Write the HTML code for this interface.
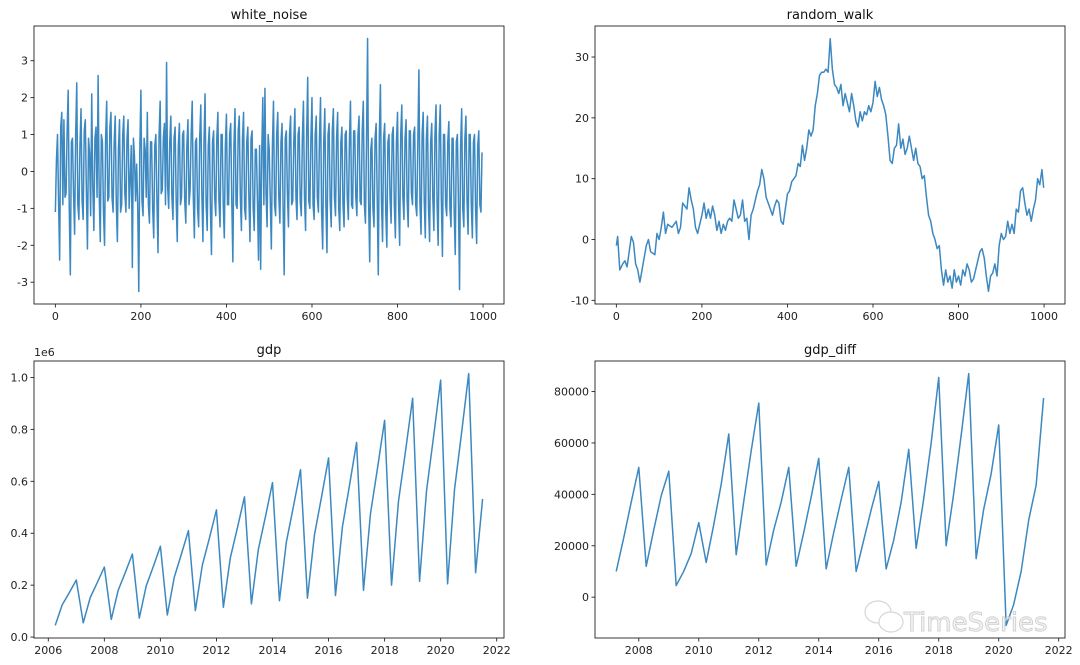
<!DOCTYPE html>
<html><head><meta charset="utf-8"><style>
body{margin:0;background:#fff;}
svg{display:block;font-family:"DejaVu Sans","Liberation Sans",sans-serif;}
</style></head><body>
<svg id="fig" width="1080" height="665" viewBox="0 0 1080 665">
<rect width="1080" height="665" fill="#fff"/>
</svg>
<script>
// ---------- data ----------
const wnValA = [
-1.1,1.0,-2.4,1.6,1.4,-0.6,2.2,-2.8,0.9,-1.7,2.4,-1.3,1.7,-1.3,1.4,-2.1,0.5,2.1,-1.6,1.2,
2.6,-1.9,0.8,-2.0,1.9,-0.7,1.6,-1.1,1.5,-1.9,1.4,-0.9,1.5,-1.1,1.4,-0.2,-2.6,0.4,0.2,-3.25,
2.2,-1.2,0.6,1.6,-1.4,0.8,-1.8,1.0,-2.2,1.9,-0.5,1.3,2.95,-1.0,1.5,-1.3,1.2,-1.9,1.3,-0.7,
1.1,-1.4,1.4,-0.5,1.9,-1.8,0.9,-1.5,1.8,-1.9,2.1,-1.6,1.2,-2.25,1.1,-1.2,1.6,-1.5,1.0,-1.8,
1.55,-0.9,1.3,-2.45,1.7,-1.0,1.5,-1.6,1.6,-1.3,1.2,-1.9,1.1,-1.6,0.6,-2.4,-2.65,2.0,2.25,-1.5,
0.6,-2.1,1.9,-1.2,1.6,-1.4,1.3,-2.8,1.1,-1.5,1.5,-0.8,1.7,-1.3,1.2,-1.2,1.9,-1.6,2.55,-1.0,
2.0,-1.3,1.5,-1.1,2.0,-2.1,1.7,-2.2,1.3,-1.5,1.7,-1.2,1.6,-1.6,1.2,-1.5,1.1,-1.3,1.9,-1.0,
1.1,-1.2,1.5,-0.9,1.9,-1.4,3.6,-2.45,0.9,-1.5,1.3,-2.8,2.35,-1.9,1.3,-2.05,1.0,-1.4,1.2,-1.8,
1.6,-2.0,1.8,-1.3,1.4,-1.5,1.1,-0.9,1.2,-1.2,2.75,-1.7,1.6,-1.8,1.5,-1.9,1.3,-1.6,1.8,-2.0,
1.8,-2.3,1.0,-1.2,1.35,-1.5,0.9,-2.25,1.0,-3.2,1.7,-1.5,1.5,-1.7,1.0,-1.8,1.0,-1.95,1.1,-1.1];
// values midway between the A samples (indices 2,7,12,...)
const wnValB = [
0.3,-0.8,1.2,-0.9,-0.7,1.1,-1.0,0.8,-0.6,1.0,-0.9,0.7,-0.8,1.1,-0.5,0.9,-1.2,-0.4,0.9,-0.7,
-0.6,1.0,-1.1,0.9,-0.8,1.2,-0.7,0.8,-0.9,0.6,-1.1,1.0,-0.6,0.9,-1.0,0.7,0.9,-0.8,-0.9,0.6,
-0.8,0.9,-0.7,-0.9,0.8,-1.0,0.7,-0.8,1.0,-0.6,0.9,-0.9,-0.4,0.8,-0.7,0.9,-0.8,0.7,-0.9,1.0,
-0.8,0.7,-0.9,1.0,-0.7,0.8,-1.0,0.9,-0.6,0.8,-0.9,0.7,-1.0,0.8,-0.7,0.9,-0.8,1.0,-0.9,0.7,
-0.9,1.0,-0.8,0.7,-0.9,1.1,-0.7,0.9,-1.0,0.8,-0.7,0.9,-1.0,0.6,-0.8,0.7,0.5,-0.9,-0.6,1.0,
-0.8,0.7,-0.9,1.0,-0.7,0.8,-1.0,0.9,-0.6,1.0,-0.9,0.8,-0.7,1.0,-0.8,0.9,-0.7,1.0,-0.8,0.9,
-0.9,1.0,-0.7,0.9,-1.1,0.8,-0.9,1.0,-0.8,1.1,-0.7,0.9,-1.0,0.8,-0.9,1.0,-0.7,0.8,-0.9,1.1,
-0.7,1.0,-0.8,1.1,-0.9,0.8,-0.9,0.6,-1.0,0.9,-0.7,1.0,-0.8,0.9,-1.1,0.8,-0.7,1.0,-0.9,0.8,
-0.9,1.0,-0.7,0.9,-0.8,1.1,-0.6,1.0,-0.9,0.8,-0.9,1.0,-0.8,0.9,-1.0,0.8,-0.7,1.0,-0.9,1.0,
-0.8,1.0,-0.9,0.8,-1.0,0.9,-1.1,0.8,-0.9,0.7,-1.0,0.9,-0.8,1.0,-0.9,0.8,-1.0,0.7,-0.9,0.5];
const wnLast = 0.5;

const rwIdx = [0,3,8,15,20,25,30,35,40,45,50,55,60,65,70,75,80,90,95,100,105,110,115,120,130,140,145,150,155,160,165,170,175,180,185,190,200,205,210,215,220,225,230,235,240,245,250,255,260,265,270,275,280,285,290,295,300,305,310,315,320,330,335,340,345,350,355,360,365,370,375,380,385,390,395,400,405,410,415,420,425,430,435,440,445,450,455,460,465,470,475,480,485,490,495,500,505,510,515,520,525,530,535,540,545,550,555,560,565,570,575,580,585,590,595,600,605,610,615,620,625,630,635,640,645,650,655,660,665,670,675,680,685,690,695,700,705,710,715,720,725,730,735,740,745,750,755,760,765,770,775,780,785,790,795,800,805,810,815,820,825,830,835,840,845,850,855,860,865,870,875,880,885,890,895,900,905,910,915,920,925,930,935,940,945,950,955,960,965,970,975,980,985,990,995,999];
const rwVal = [-1,0.5,-5,-4,-3.5,-4.5,-2,0.5,-0.5,-4,-5,-7,-5,-3,-1,0,-2,-2.5,1,0,2,4.5,1,2.5,2,3,1,2,6,5.5,5,8.5,6.5,5,2,1,4,6,3.5,5,3.5,5.5,4,1.5,3,1,2.5,1.5,3,3.5,3,6.5,5,3.5,4,6.5,3,3.5,0,4,5,8,9,11.5,10,7,6,5,4,5.5,6.5,6,3,2.5,5,7.5,8,9.5,10,10.5,12.5,12,15.5,13,15,18,17,18,22,24,27,27.5,27.5,28,27.5,33,28,25.5,25,24,25.5,22,24,22.5,21,24,22,19.5,18.5,21,19.5,21,20.5,22,21,22.5,26,23.5,25,23,22,20.5,17,13,12.5,15,15.5,19,15,16.5,14,15,17,15,13,15,12.5,12,10,10.5,7,4,3,1,0,-1.5,-1,-5,-7.5,-5,-7,-6,-8,-5,-7,-6,-7.5,-5,-6,-4,-5,-7,-6.5,-5,-3.5,-2,-1.5,-3,-6,-8.5,-6,-5.5,-4,-6,-1,1,0,0.5,3,1,2.5,1,5,4.5,8,8.5,6,4,5,3,5,6.5,10,9,11.5,8.5];

// quarterly GDP, 2006Q1 .. 2021Q2
const gdpYears = [];
const gdpQuarters = [];
for (let y = 2006; y <= 2021; y++) for (let q = 1; q <= 4; q++) { if (y === 2021 && q > 2) break; gdpYears.push(y); gdpQuarters.push(q); }
const gdpVal = [
0.045e6,0.124e6,0.171e6,0.22e6,
0.055e6,0.152e6,0.210e6,0.27e6,
0.068e6,0.181e6,0.249e6,0.32e6,
0.073e6,0.198e6,0.272e6,0.35e6,
0.085e6,0.231e6,0.319e6,0.41e6,
0.102e6,0.277e6,0.381e6,0.49e6,
0.115e6,0.306e6,0.421e6,0.54e6,
0.128e6,0.338e6,0.464e6,0.595e6,
0.14e6,0.367e6,0.504e6,0.645e6,
0.15e6,0.393e6,0.539e6,0.69e6,
0.16e6,0.426e6,0.585e6,0.75e6,
0.18e6,0.475e6,0.652e6,0.835e6,
0.20e6,0.524e6,0.718e6,0.92e6,
0.215e6,0.564e6,0.773e6,0.99e6,
0.205e6,0.570e6,0.788e6,1.015e6,
0.248e6,0.532e6];
// gdp_diff, 2007Q1 .. 2021Q2
const diffYears = gdpYears.slice(4);
const diffQuarters = gdpQuarters.slice(4);
const diffVal = [
10000,23000,37000,50500,
12000,26000,39500,49000,
4500,10000,17000,29000,
13500,28000,44000,63500,
16500,37000,57000,75500,
12500,26000,37000,50500,
12000,25000,39000,54000,
11000,25000,38000,50500,
10000,22000,34000,45000,
11000,22000,37000,57500,
19000,38000,60000,85500,
20000,40000,63000,87000,
15000,34000,48000,67000,
-11000,-3000,10000,30000,
43500,77500];

const idxTicks = [0,200,400,600,800,1000];
const wnTicks = [-3,-2,-1,0,1,2,3];
const rwTicks = [-10,0,10,20,30];
const yearTicksA = [2006,2008,2010,2012,2014,2016,2018,2020,2022];
const yearTicksB = [2008,2010,2012,2014,2016,2018,2020,2022];
const gdpTicks = [0,0.2e6,0.4e6,0.6e6,0.8e6,1.0e6];
const gdpTickLabels = ["0.0","0.2","0.4","0.6","0.8","1.0"];
const diffTicks = [0,20000,40000,60000,80000];

// merge white-noise samples in index order
const wnIdx = [], wnVal = [];
wnValA.forEach((v, i) => { wnIdx.push(i * 5); wnVal.push(v); wnIdx.push(i * 5 + 2.5); wnVal.push(wnValB[i]); });
wnIdx.push(999); wnVal.push(wnLast);

// ---------- drawing ----------
const NS = "http://www.w3.org/2000/svg";
const svg = document.getElementById('fig');
function mk(tag, attrs, parent) {
  const e = document.createElementNS(NS, tag);
  for (const k in attrs) e.setAttribute(k, attrs[k]);
  (parent || svg).appendChild(e);
  return e;
}
function qx(y, q) { return y + [0.247, 0.496, 0.748, 1.0][q - 1]; }

function panel(name, box, xd, yd, xs, ys, xticks, xlabels, yticks, ylabels, title) {
  const g = mk('g', {});
  
  
  const X = v => box.l + (v - xd[0]) / (xd[1] - xd[0]) * (box.r - box.l);
  const Y = v => box.b - (v - yd[0]) / (yd[1] - yd[0]) * (box.b - box.t);
  let d = '';
  xs.forEach((v, i) => { d += (i ? 'L' : 'M') + X(v).toFixed(2) + ' ' + Y(ys[i]).toFixed(2); });
  const p = mk('path', { d: d, fill: 'none', stroke: '#3c88c0', 'stroke-width': 1.5, 'stroke-linejoin': 'round' }, g);
  
  
  const fr = mk('rect', { x: box.l, y: box.t, width: box.r - box.l, height: box.b - box.t, fill: 'none', stroke: '#222', 'stroke-width': 0.9 }, g);
  
  
  xticks.forEach((v, i) => {
    const x = X(v);
    mk('line', { x1: x, x2: x, y1: box.b, y2: box.b + 3.5, stroke: '#222', 'stroke-width': 0.9 }, g);
    const t = mk('text', { x: x, y: box.b + 16, 'text-anchor': 'middle', 'font-size': 11, fill: '#222' }, g);
    t.textContent = xlabels[i];
    
    
  });
  yticks.forEach((v, i) => {
    const y = Y(v);
    mk('line', { x1: box.l - 3.5, x2: box.l, y1: y, y2: y, stroke: '#222', 'stroke-width': 0.9 }, g);
    const t = mk('text', { x: box.l - 6, y: y + 4, 'text-anchor': 'end', 'font-size': 11, fill: '#222' }, g);
    t.textContent = ylabels[i];
    
    
  });
  const tt = mk('text', { x: (box.l + box.r) / 2, y: box.t - 7, 'text-anchor': 'middle', 'font-size': 13, fill: '#111' }, g);
  tt.textContent = title;
  
  
}

panel('white-noise', {l:34,r:504,t:26,b:304}, [-49.95,1048.95], [-3.59,3.94], wnIdx, wnVal,
  idxTicks, idxTicks.map(String), wnTicks, wnTicks.map(String), 'white_noise');
panel('random-walk', {l:595,r:1065,t:26,b:304}, [-49.95,1048.95], [-10.6,35.1], rwIdx, rwVal,
  idxTicks, idxTicks.map(String), rwTicks, rwTicks.map(String), 'random_walk');
panel('gdp', {l:34,r:504,t:361,b:638}, [2005.49,2022.26], [-0.0035e6,1.0635e6],
  gdpYears.map((y,i)=>qx(y,gdpQuarters[i])), gdpVal,
  yearTicksA, yearTicksA.map(String), gdpTicks, gdpTickLabels, 'gdp');
panel('gdp-diff', {l:595,r:1065,t:361,b:638}, [2006.54,2022.21], [-15900,91900],
  diffYears.map((y,i)=>qx(y,diffQuarters[i])), diffVal,
  yearTicksB, yearTicksB.map(String), diffTicks, diffTicks.map(String), 'gdp_diff');

const off = mk('text', { x: 34, y: 356, 'font-size': 11, fill: '#222' });
off.textContent = '1e6';



// watermark
const wm = mk('g', { opacity: 0.75 });


mk('ellipse', { cx: 878, cy: 612, rx: 13, ry: 11, fill: '#fff', stroke: '#c8c8c8', 'stroke-width': 1.2 }, wm);
mk('ellipse', { cx: 891, cy: 622, rx: 12, ry: 10, fill: '#fff', stroke: '#c8c8c8', 'stroke-width': 1.2 }, wm);
const wt = mk('text', { x: 904, y: 631, 'font-size': 26, fill: '#f2f2f2', stroke: '#c4c4c4', 'stroke-width': 1 }, wm);
wt.textContent = 'TimeSeries';


</script>
</body></html>
